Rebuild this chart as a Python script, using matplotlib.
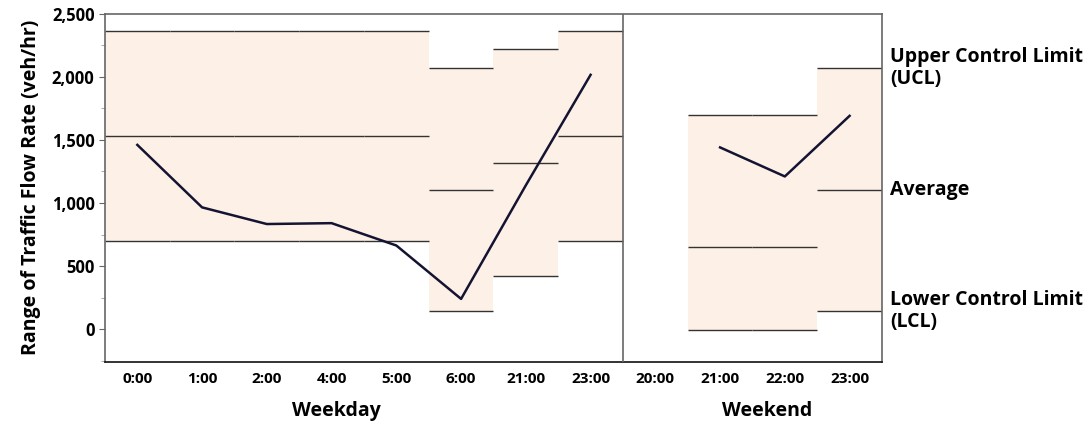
import numpy as np
import matplotlib
matplotlib.use("Agg")
import matplotlib.pyplot as plt
from matplotlib.ticker import MultipleLocator, FuncFormatter

# hours along the x axis (weekday block, then weekend block)
hours = ["0:00", "1:00", "2:00", "4:00", "5:00", "6:00", "21:00", "23:00",
         "20:00", "21:00", "22:00", "23:00"]
n_weekday = 8

# range of traffic flow rate (veh/hr), nan = no data
flow_range = [1460, 965, 833, 840, 663, 240, 1140, 2015,
              np.nan, 1440, 1210, 1690]

# control limits per hour
ucl = [2360, 2360, 2360, 2360, 2360, 2070, 2220, 2360,
       np.nan, 1700, 1700, 2070]
avg = [1530, 1530, 1530, 1530, 1530, 1105, 1320, 1530,
       np.nan, 655, 655, 1105]
lcl = [695, 695, 695, 695, 695, 143, 425, 695,
       np.nan, -10, -10, 143]

right_labels = ["Upper Control Limit\n(UCL)", "Average", "Lower Control Limit\n(LCL)"]

plt.rcParams['font.family'] = ['Open Sans', 'DejaVu Sans']
plt.rcParams['font.weight'] = 'bold'

fig = plt.figure(figsize=(10.91, 4.25), dpi=100)
ax = fig.add_axes([0.0962, 0.1482, 0.8084 - 0.0962, 0.968 - 0.1482])

x = np.arange(len(hours))
shade = "#fdf1e7"
limit_color = "#333333"

# shaded control band and limit lines, one step per hour
for i in x:
    if np.isnan(ucl[i]):
        continue
    ax.fill_between([i - 0.5, i + 0.5], lcl[i], ucl[i], color=shade, lw=0, zorder=1)
    for v in (ucl[i], avg[i], lcl[i]):
        ax.plot([i - 0.5, i + 0.5], [v, v], color=limit_color, lw=1.0,
                solid_capstyle='butt', zorder=2)

# data line
ax.plot(x, flow_range, color="#141432", lw=1.8, zorder=3)

# divider between weekday and weekend
ax.axvline(n_weekday - 0.5, color="#666666", lw=1.2, zorder=4)

ax.set_xlim(-0.5, len(hours) - 0.5)
ax.set_ylim(-260, 2500)
ax.set_xticks(x)
ax.set_xticklabels(hours, fontsize=11, fontweight='bold')
ax.tick_params(axis='x', length=0, pad=7)
ax.yaxis.set_major_locator(MultipleLocator(500))
ax.yaxis.set_minor_locator(MultipleLocator(250))
ax.yaxis.set_major_formatter(FuncFormatter(lambda v, p: f"{int(v):,}"))
ax.tick_params(axis='y', which='major', length=4, labelsize=12, color="#666666")
ax.tick_params(axis='y', which='minor', length=3, color="#999999")
for lab in ax.get_yticklabels():
    lab.set_fontweight('bold')

for s in ax.spines.values():
    s.set_color("#666666")
    s.set_linewidth(1.2)
ax.spines['bottom'].set_color("#111111")

ax.set_ylabel("Range of Traffic Flow Rate (veh/hr)", fontsize=14,
              fontweight='bold', labelpad=8)

# group labels under the axis
ax.text(3.07, -0.14, "Weekday", transform=ax.get_xaxis_transform(),
        ha='center', va='center', fontsize=14, fontweight='bold')
ax.text(9.72, -0.14, "Weekend", transform=ax.get_xaxis_transform(),
        ha='center', va='center', fontsize=14, fontweight='bold')

# labels for the limit lines on the right, next to the last hour
last = len(hours) - 1
for txt, v in zip(right_labels, (ucl[last], avg[last], lcl[last])):
    ax.annotate(txt, xy=(1.0, v), xycoords=('axes fraction', 'data'),
                xytext=(6, 0), textcoords='offset points',
                ha='left', va='center',
                fontsize=14, fontweight='bold', linespacing=1.15,
                annotation_clip=False)

fig.savefig("out.png", dpi=100)
